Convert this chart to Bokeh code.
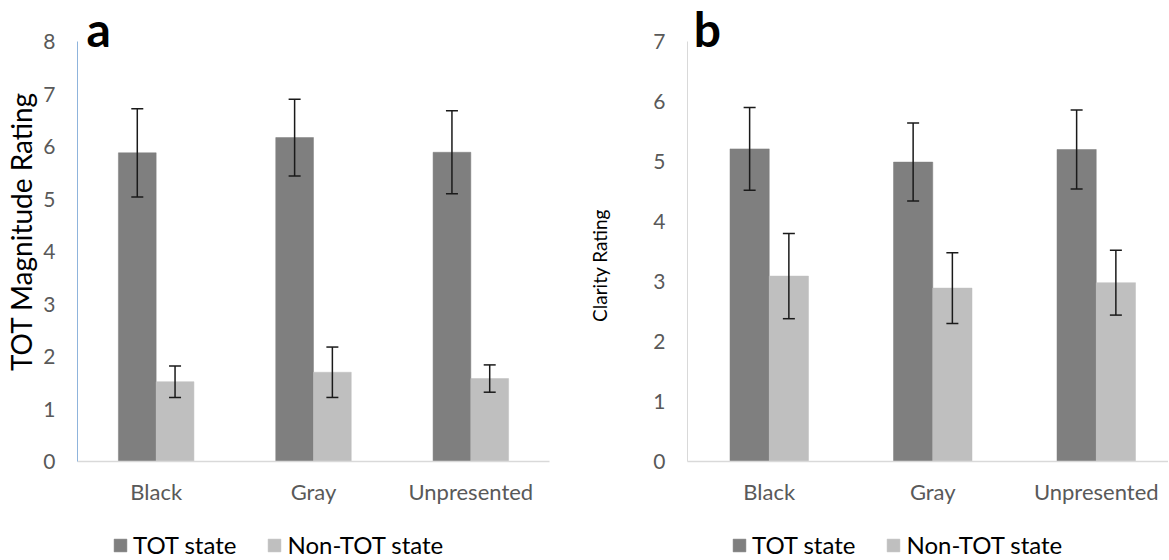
import math
from bokeh.plotting import figure
from bokeh.layouts import row
from bokeh.models import (Range1d, FixedTicker, Whisker, TeeHead, ColumnDataSource,
                          Label, Legend, LegendItem)
from bokeh.embed import file_html
from bokeh.resources import INLINE

categories = ["Black", "Gray", "Unpresented"]
series = ["TOT state", "Non-TOT state"]

mag_tot = [5.88, 6.17, 5.89]
mag_tot_err = [0.84, 0.73, 0.79]
mag_non = [1.52, 1.70, 1.58]
mag_non_err = [0.30, 0.48, 0.26]

cla_tot = [5.21, 4.99, 5.20]
cla_tot_err = [0.69, 0.65, 0.66]
cla_non = [3.09, 2.89, 2.98]
cla_non_err = [0.71, 0.59, 0.54]

FONT = "Lato"
C_TOT = "#7f7f7f"
C_NON = "#bfbfbf"
BAR_W = 0.24
H = 559
Y0 = 461       # pixel row of value 0
YMAXPX = 41    # pixel row of the top tick


def panel(tot, tot_err, non, non_err, ymax, ylabel, ylabel_size, ylabel_px,
          letter, letter_x, letter_py, width, axis_px, band_px, xend, yaxis_color,
          leg_x):
    ppu = (Y0 - YMAXPX) / ymax
    y_start = -(H - Y0) / ppu
    y_end = ymax + YMAXPX / ppu
    x_start = -axis_px / band_px
    x_stop = (width - axis_px) / band_px
    p = figure(width=width, height=H, output_backend="svg", toolbar_location=None,
               x_range=Range1d(x_start, x_stop), y_range=Range1d(y_start, y_end),
               min_border=0, min_border_left=0, min_border_right=0,
               min_border_top=0, min_border_bottom=0)
    p.outline_line_color = None
    p.grid.visible = False
    idx = list(range(len(categories)))
    x_tot = [i + 0.5 - BAR_W / 2 for i in idx]
    x_non = [i + 0.5 + BAR_W / 2 for i in idx]
    s_tot = ColumnDataSource(dict(x=x_tot, top=tot,
                                  up=[v + e for v, e in zip(tot, tot_err)],
                                  lo=[v - e for v, e in zip(tot, tot_err)]))
    s_non = ColumnDataSource(dict(x=x_non, top=non,
                                  up=[v + e for v, e in zip(non, non_err)],
                                  lo=[v - e for v, e in zip(non, non_err)]))
    r1 = p.vbar(x="x", top="top", bottom=0, width=BAR_W, source=s_tot,
                fill_color=C_TOT, line_color=C_TOT, line_width=0.5)
    r2 = p.vbar(x="x", top="top", bottom=0, width=BAR_W, source=s_non,
                fill_color=C_NON, line_color=C_NON, line_width=0.5)
    for s in (s_tot, s_non):
        w = Whisker(base="x", upper="up", lower="lo", source=s, level="overlay",
                    line_color="#1a1a1a", line_width=1.5,
                    upper_head=TeeHead(size=12, line_color="#1a1a1a", line_width=1.5),
                    lower_head=TeeHead(size=12, line_color="#1a1a1a", line_width=1.5))
        p.add_layout(w)

    xa = p.xaxis[0]
    xa.fixed_location = 0
    xa.bounds = (0, xend)
    xa.ticker = FixedTicker(ticks=[i + 0.5 for i in idx])
    xa.major_label_overrides = {i + 0.5: c for i, c in zip(idx, categories)}
    xa.axis_line_color = "#d9d9d9"
    xa.axis_line_width = 1.5
    xa.major_tick_line_color = None
    xa.minor_tick_line_color = None
    xa.major_tick_out = 0
    xa.major_tick_in = 0
    xa.major_label_standoff = 16
    xa.major_label_text_font = FONT
    xa.major_label_text_font_size = "22px"
    xa.major_label_text_color = "#595959"

    ya = p.yaxis[0]
    ya.fixed_location = 0
    ya.ticker = FixedTicker(ticks=list(range(0, ymax + 1)))
    ya.bounds = (0, ymax)
    ya.axis_line_color = yaxis_color
    ya.axis_line_width = 1
    ya.major_tick_line_color = None
    ya.minor_tick_line_color = None
    ya.major_tick_out = 0
    ya.major_tick_in = 0
    ya.major_label_standoff = 22
    ya.major_label_text_font = FONT
    ya.major_label_text_font_size = "21px"
    ya.major_label_text_color = "#595959"

    lx, ly = ylabel_px
    yl = Label(x=(lx - axis_px) / band_px, y=(Y0 - ly) / ppu, text=ylabel,
               angle=math.pi / 2, text_align="center", text_baseline="middle",
               text_font=FONT, text_font_size=ylabel_size, text_color="#000000")
    p.add_layout(yl)

    lab = Label(x=letter_x, y=(Y0 - letter_py) / ppu, text=letter, text_font=FONT,
                text_font_size="48px", text_font_style="bold", text_color="#000000",
                text_baseline="middle")
    p.add_layout(lab)

    leg = Legend(items=[LegendItem(label=series[0], renderers=[r1]),
                        LegendItem(label=series[1], renderers=[r2])],
                 orientation="horizontal", location=(leg_x, 0),
                 glyph_width=16, glyph_height=16, label_standoff=5, spacing=30,
                 padding=0, margin=0, border_line_color=None,
                 background_fill_alpha=0, label_text_font=FONT,
                 label_text_font_size="24px", label_text_color="#000000")
    p.add_layout(leg, "center")
    return p


p1 = panel(mag_tot, mag_tot_err, mag_non, mag_non_err, 8,
           "TOT Magnitude Rating", "28px", (20, 231), "a", 0.057, 27.5,
           586, 77, 157.33, 3.0, "#8fb4dc", 112)
p2 = panel(cla_tot, cla_tot_err, cla_non, cla_non_err, 7,
           "Clarity Rating", "19px", (13, 265), "b", 0.038, 27.5,
           582, 101, 163.5, 481 / 163.5, "#d9d9d9", 145)

p = row(p1, p2)
open("out.html", "w").write(file_html(p, INLINE))
